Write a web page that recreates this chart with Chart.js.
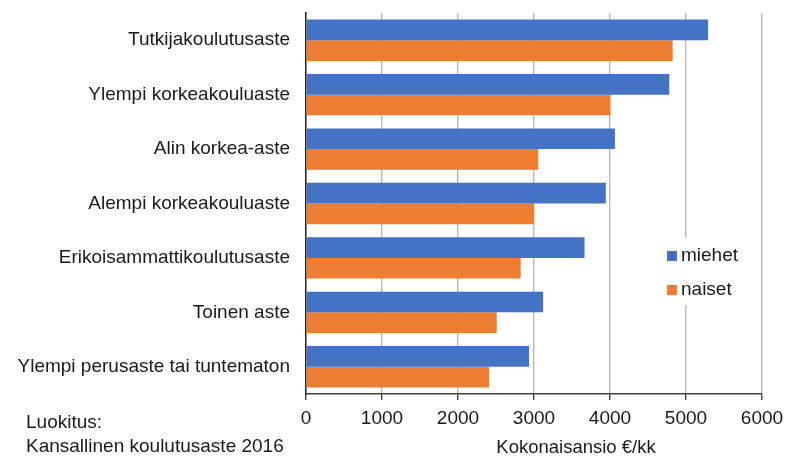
<!DOCTYPE html>
<html>
<head>
<meta charset="utf-8">
<script src="https://cdn.jsdelivr.net/npm/chart.js@4"></script>
<style>
  html, body { margin: 0; padding: 0; background: #fff; }
  #wrap { position: relative; width: 787px; height: 457px; }
</style>
</head>
<body>
<div id="wrap"><canvas id="barChart" width="787" height="457"></canvas></div>
<script>
var categories = [
  'Tutkijakoulutusaste',
  'Ylempi korkeakouluaste',
  'Alin korkea-aste',
  'Alempi korkeakouluaste',
  'Erikoisammattikoulutusaste',
  'Toinen aste',
  'Ylempi perusaste tai tuntematon'
];
var miehet = [5290, 4780, 4065, 3945, 3665, 3120, 2935];
var naiset = [4825, 4005, 3055, 3000, 2825, 2510, 2410];
var xTicks = [0, 1000, 2000, 3000, 4000, 5000, 6000];
var axisTitle = 'Kokonaisansio €/kk';
var noteLines = ['Luokitus:', 'Kansallinen koulutusaste 2016'];

var fontFamily = '"Liberation Sans", Arial, sans-serif';
Chart.defaults.font.family = fontFamily;
Chart.defaults.color = '#1a1a1a';

// legend box + notes + axis title drawn on top of the chart
var extras = {
  id: 'extras',
  afterDraw: function (chart) {
    var ctx = chart.ctx;
    var x = chart.scales.x;
    ctx.save();
    ctx.fillStyle = '#fff';
    ctx.fillRect(660, 238, 84, 67);
    ctx.font = '19px ' + fontFamily;
    ctx.textBaseline = 'middle';
    ctx.textAlign = 'left';
    chart.data.datasets.forEach(function (ds, i) {
      var cy = 256 + i * 34;
      ctx.fillStyle = ds.backgroundColor;
      ctx.fillRect(667, cy - 5, 10, 10);
      ctx.fillStyle = '#1a1a1a';
      ctx.fillText(ds.label, 681, cy);
    });
    ctx.fillText(noteLines[0], 26, 423);
    ctx.fillText(noteLines[1], 26, 447);
    ctx.textAlign = 'center';
    ctx.font = '18.5px ' + fontFamily;
    ctx.fillText(axisTitle, x.getPixelForValue(3500) + 4, 448);
    ctx.restore();
  }
};

var barData = {
  labels: categories,
  datasets: [{
    label: 'miehet',
    data: miehet,
    backgroundColor: '#4472C4',
    borderWidth: 0
  }, {
    label: 'naiset',
    data: naiset,
    backgroundColor: '#ED7D31',
    borderWidth: 0
  }]
};

var barConfig = {
  type: 'bar',
  data: barData,
  options: {
    indexAxis: 'y',
    responsive: false,
    animation: false,
    layout: { padding: { top: 13, right: 25, left: 0, bottom: 0 } },
    datasets: {
      bar: { categoryPercentage: 0.76, barPercentage: 1.0 }
    },
    plugins: {
      legend: { display: false },
      tooltip: { enabled: false }
    },
    scales: {
      x: {
        min: 0,
        max: 6000,
        afterBuildTicks: function (scale) {
          scale.ticks = xTicks.map(function (v) { return { value: v }; });
        },
        afterFit: function (scale) {
          scale.height = 63;
          scale.paddingLeft = 0;
          scale.paddingRight = 0;
        },
        grid: { color: '#b8b8b8', tickColor: '#404040', tickLength: 6, lineWidth: 1.4 },
        border: { color: '#404040', width: 1.4 },
        ticks: {
          font: { size: 19 },
          padding: 7,
          maxRotation: 0,
          callback: function (v) { return String(v); }
        }
      },
      y: {
        afterFit: function (scale) {
          scale.width = 306;
          scale.paddingTop = 0;
          scale.paddingBottom = 0;
        },
        grid: { display: false, drawTicks: false },
        border: { display: true, color: '#262626', width: 1.5 },
        ticks: { font: { size: 19 }, padding: 16 }
      }
    }
  },
  plugins: [extras]
};

var barChart = new Chart(
  document.getElementById('barChart'),
  barConfig
);
</script>
</body>
</html>
